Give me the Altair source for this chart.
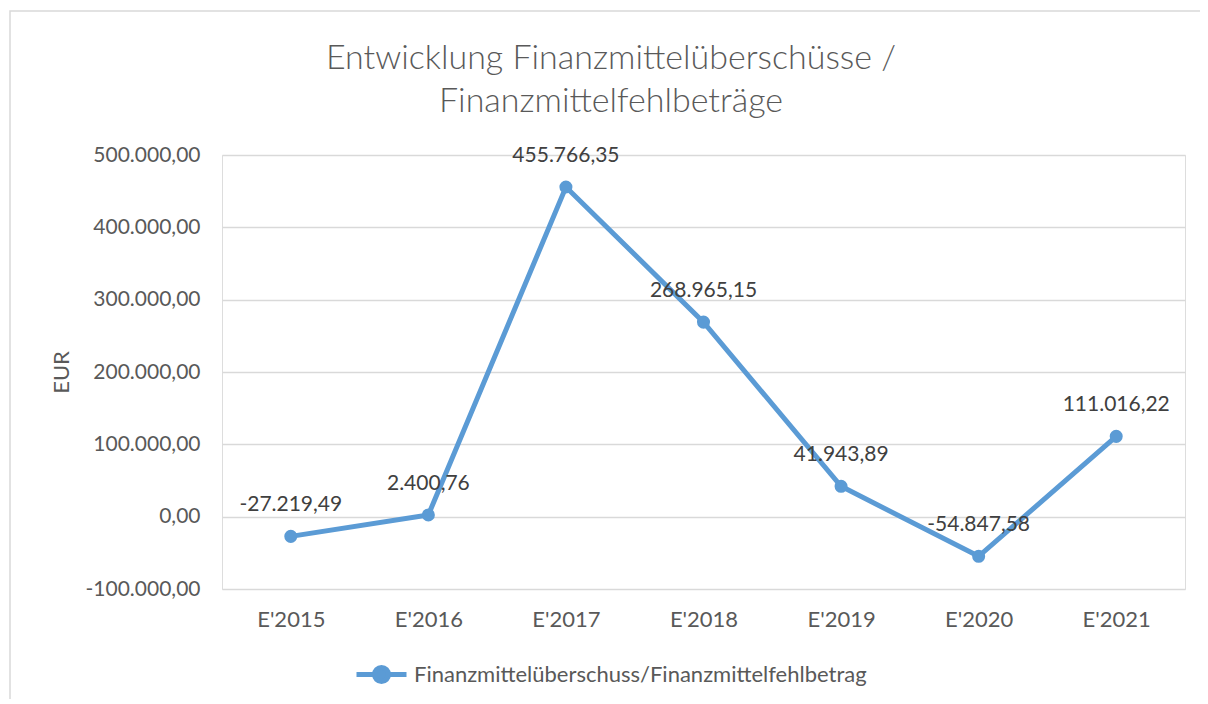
import altair as alt
import pandas as pd

years = ["E'2015", "E'2016", "E'2017", "E'2018", "E'2019", "E'2020", "E'2021"]
values = [-27219.49, 2400.76, 455766.35, 268965.15, 41943.89, -54847.58, 111016.22]
series_name = "Finanzmittelüberschuss/Finanzmittelfehlbetrag"
title_lines = ["Entwicklung Finanzmittelüberschüsse /", "Finanzmittelfehlbeträge"]
y_ticks = [-100000, 0, 100000, 200000, 300000, 400000, 500000]

df = pd.DataFrame({"year": years, "value": values, "series": series_name})

FONT = "Lato"
BLUE = "#5B9BD5"
W, H = 963, 434

legend_symbol = ("M-1,0L-0.3,0M0.3,0L1,0"
                 "M0.28,0A0.28,0.28 0 1,1 -0.28,0A0.28,0.28 0 1,1 0.28,0Z")

x = alt.X("year:N", sort=years, title=None,
          scale=alt.Scale(type="point", padding=0.5),
          axis=alt.Axis(labelAngle=0, labelFontSize=22, labelColor="#595959", labelFont=FONT,
                        ticks=False, domain=False, labelPadding=20, grid=False))
y = alt.Y("value:Q", title="EUR",
          scale=alt.Scale(domain=[-100000, 500000], nice=False),
          axis=alt.Axis(values=y_ticks, format=",.2f", labelFontSize=21, labelColor="#595959",
                        labelFont=FONT, ticks=False, domain=False, labelPadding=22,
                        titleFontSize=22, titleColor="#595959", titleFont=FONT,
                        titleFontWeight="normal", titlePadding=12,
                        gridColor="#d9d9d9", gridWidth=1.5))

color = alt.Color("series:N", scale=alt.Scale(range=[BLUE]),
                  legend=alt.Legend(orient="none", legendX=132, legendY=492, title=None,
                                    padding=0, symbolType=legend_symbol, symbolSize=2500,
                                    symbolStrokeWidth=5, symbolFillColor=BLUE,
                                    symbolStrokeColor=BLUE, symbolOpacity=1,
                                    labelFontSize=22, labelColor="#595959", labelFont=FONT,
                                    labelOffset=5, labelLimit=0))

base = alt.Chart(df)
one = alt.Chart(pd.DataFrame({"t": [0]}))

frame = one.mark_rect(fill=None, stroke="#d9d9d9", strokeWidth=1.5, clip=False).encode(
    x=alt.value(-212), x2=alt.value(1100), y=alt.value(-144), y2=alt.value(700))

title = one.mark_text(text=title_lines, fontSize=34, font=FONT, fontWeight=300,
                      color="#595959", lineHeight=43, align="center",
                      baseline="alphabetic").encode(
    x=alt.value(389), y=alt.value(-86))

line = base.mark_line(strokeWidth=5, color=BLUE).encode(x=x, y=y, color=color)
pts = base.mark_circle(size=170, opacity=1, color=BLUE).encode(x=x, y=y)
labels = base.mark_text(dy=-31, fontSize=21, color="#404040", font=FONT).encode(
    x=x, y=y, text=alt.Text("value:Q", format=",.2f"))

chart = alt.layer(frame, title, line, pts, labels).properties(
    width=W, height=H,
    autosize=alt.AutoSizeParams(type="none"),
    padding={"left": 214, "top": 147, "right": 15, "bottom": 110},
).configure_view(stroke=None).configure(
    locale={"number": {"decimal": ",", "thousands": ".", "grouping": [3],
                       "currency": ["", " €"], "minus": "-"}}
)

chart.save("out.html", embed_options={"renderer": "svg", "actions": False})
